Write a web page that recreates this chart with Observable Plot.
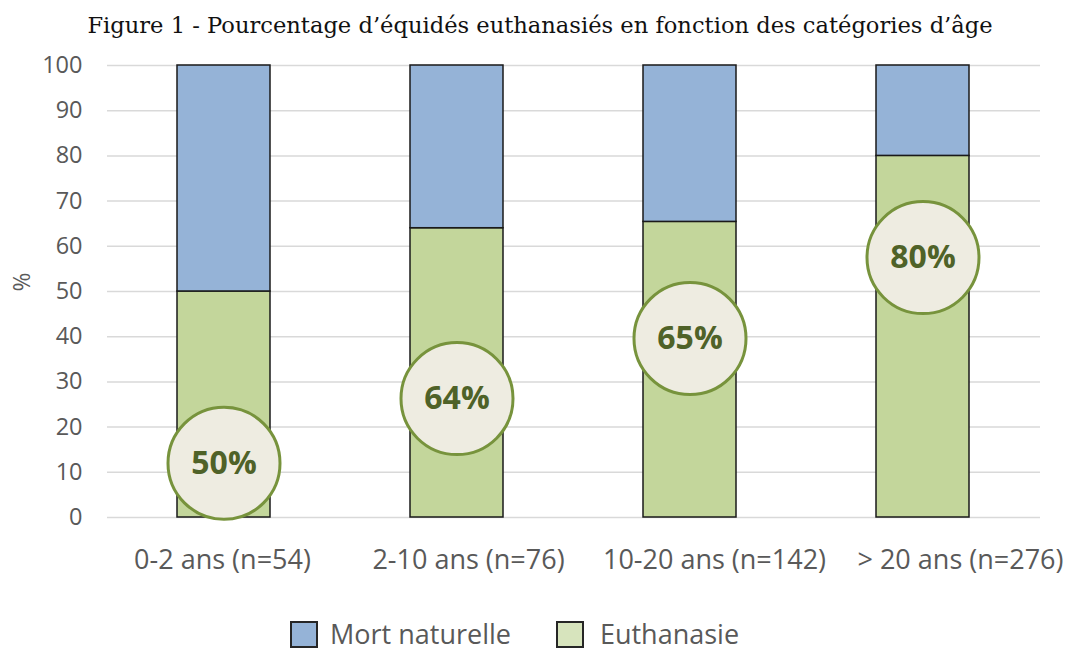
<!DOCTYPE html>
<html>
<head>
<meta charset="utf-8">
<script src="https://cdn.jsdelivr.net/npm/d3@7"></script>
<script src="https://cdn.jsdelivr.net/npm/@observablehq/plot@0.6"></script>
<style>
  html, body { margin: 0; padding: 0; background: #fff; }
  #wrap { width: 1067px; height: 651px; position: relative; }
  #title { font-family: Georgia, "DejaVu Serif", serif; font-size: 22.6px; color: #111; text-align: center; height: 40px; line-height: 50px; padding-left: 13px; }
  #chart { position: relative; }
  #chart svg { display: block; }
  #labels { position: absolute; left: 0; top: 0; pointer-events: none; }
  #legend { position: absolute; left: 290px; top: 620px; display: flex; align-items: center; font-family: "Open Sans", sans-serif; font-size: 27px; line-height: 28px; color: #595959; }
  .item { display: flex; align-items: center; }
  .sw { width: 28px; height: 27px; box-sizing: border-box; border: 2px solid #262626; }
</style>
</head>
<body>
<div id="wrap">
  <div id="title">Figure 1 - Pourcentage d’équidés euthanasiés en fonction des catégories d’âge</div>
  <div id="chart"><div id="labels"></div></div>
  <div id="legend"></div>
</div>
<script>
const categories = ["0-2 ans (n=54)", "2-10 ans (n=76)", "10-20 ans (n=142)", "> 20 ans (n=276)"];
const euthanasie = [50, 64, 65.4, 80];
const mortNaturelle = [50, 36, 34.6, 20];
const labelY = [12, 26.3, 39.6, 57.5];
const series = ["Euthanasie", "Mort naturelle"];
const legendOrder = ["Mort naturelle", "Euthanasie"];
const yTicks = [0, 10, 20, 30, 40, 50, 60, 70, 80, 90, 100];

const rows = [];
categories.forEach((c, i) => {
  rows.push({cat: c, serie: "Euthanasie", value: euthanasie[i]});
  rows.push({cat: c, serie: "Mort naturelle", value: mortNaturelle[i]});
});
const labels = categories.map((c, i) => ({cat: c, y: labelY[i], text: Math.round(euthanasie[i]) + "%"}));

const colors = {"Euthanasie": "#C3D69B", "Mort naturelle": "#95B3D7"};
const legendColors = {"Euthanasie": "#D7E4BD", "Mort naturelle": "#95B3D7"};

const W = 1067, H = 575, MT = 25, MB = 98;

const chart = Plot.plot({
  width: W,
  height: H,
  marginLeft: 107,
  marginRight: 27,
  marginTop: MT,
  marginBottom: MB,
  style: {fontFamily: "'Open Sans', sans-serif", background: "#fff"},
  x: {domain: categories, paddingInner: 0.6, paddingOuter: 0.3, label: null, axis: null},
  y: {domain: [0, 100], label: null},
  color: {domain: series, range: series.map(s => colors[s])},
  marks: [
    Plot.gridY(yTicks, {stroke: "#D9D9D9", strokeOpacity: 1, strokeWidth: 1.5}),
    Plot.axisY(yTicks, {tickSize: 0, tickPadding: 25, fontSize: 23.5, fill: "#595959", label: null}),
    Plot.text(["%"], {frameAnchor: "left", dx: -85, dy: 0, rotate: -90, fontSize: 23, fill: "#595959"}),
    Plot.barY(rows, Plot.stackY({x: "cat", y: "value", fill: "serie", order: series, stroke: "#1a1a1a", strokeWidth: 1.5})),
    Plot.dot(labels, {x: "cat", y: "y", r: 56, fill: "#EEECE1", stroke: "#77933C", strokeWidth: 3}),
    Plot.text(labels, {x: "cat", y: "y", text: "text", fontSize: 32, fontWeight: "bold", fill: "#4F6228"})
  ]
});
document.getElementById("chart").insertBefore(chart, document.getElementById("labels"));

// category labels, laid out as in the reference (slightly wider spacing than the bars)
const axisPlot = Plot.plot({
  width: W,
  height: H,
  marginLeft: 0,
  marginRight: 0,
  marginTop: MT,
  marginBottom: MB,
  style: {fontFamily: "'Open Sans', sans-serif", background: "transparent"},
  x: {type: "point", domain: categories, range: [221, 960], padding: 0, label: null},
  y: {axis: null},
  marks: [
    Plot.axisX({tickSize: 0, tickPadding: 32, fontSize: 27, fill: "#595959", label: null})
  ]
});
document.getElementById("labels").appendChild(axisPlot);

const legend = document.getElementById("legend");
const swGap = [12, 16];
const itemGap = [45, 0];
legendOrder.forEach((s, i) => {
  const it = document.createElement("div");
  it.className = "item";
  it.style.marginRight = itemGap[i] + "px";
  const sw = document.createElement("div");
  sw.className = "sw";
  sw.style.background = legendColors[s];
  sw.style.marginRight = swGap[i] + "px";
  const t = document.createElement("span");
  t.textContent = s;
  it.appendChild(sw); it.appendChild(t);
  legend.appendChild(it);
});
</script>
</body>
</html>
